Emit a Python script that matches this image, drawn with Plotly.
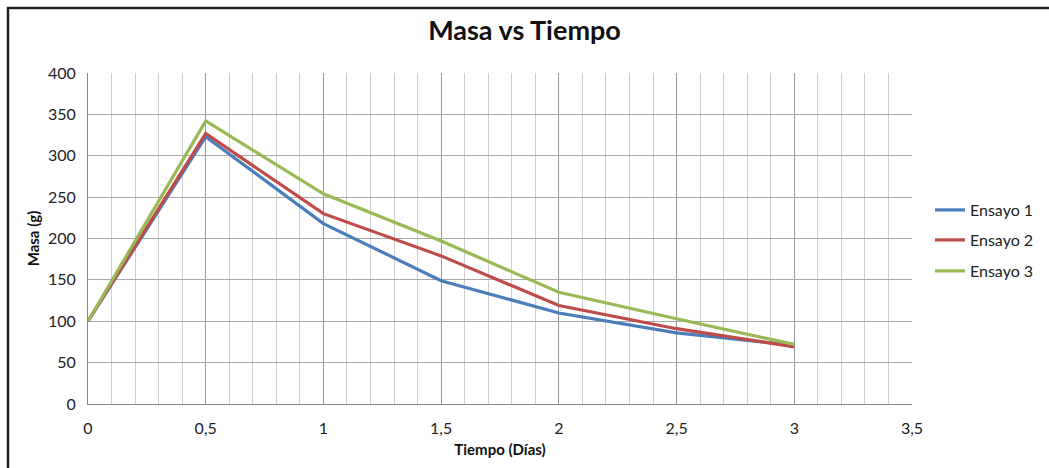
import plotly.graph_objects as go

dias = [0, 0.5, 1, 1.5, 2, 2.5, 3]
ensayo1 = [100, 323, 218, 149, 110, 86, 71]
ensayo2 = [100, 327, 230, 179, 119, 91, 69]
ensayo3 = [100, 342, 254, 197, 135, 103, 72]
series_names = ["Ensayo 1", "Ensayo 2", "Ensayo 3"]
colors = ["#4A7EBB", "#BE4B48", "#98B954"]

W, H = 1049, 468
L, R, T, B = 88, 137, 73, 64
pw, ph = W - L - R, H - T - B

def px(x):
    return (x - L) / pw

def py(y):
    return (H - B - y) / ph

legend_ids = ["legend", "legend2", "legend3"]
legend_rows = [210, 240, 271]

fig = go.Figure()
for name, vals, c, lg in zip(series_names, [ensayo1, ensayo2, ensayo3], colors, legend_ids):
    fig.add_trace(go.Scatter(x=dias, y=vals, mode="lines", name=name, legend=lg,
                             line=dict(color=c, width=3.2)))

legend_layout = {}
for lg, row in zip(legend_ids, legend_rows):
    legend_layout[lg] = dict(x=px(930), xanchor="left", y=py(row), yanchor="middle",
                             font=dict(size=16, color="#222"),
                             itemwidth=30, bgcolor="rgba(0,0,0,0)")

fig.update_layout(
    width=W, height=H,
    margin=dict(l=L, r=R, t=T, b=B, autoexpand=False),
    paper_bgcolor="white", plot_bgcolor="white",
    font=dict(family="Lato, 'Open Sans', sans-serif", size=16, color="#222"),
    separators=",.",
    title=dict(text="<b>Masa vs Tiempo</b>", x=0.5, xanchor="center",
               y=1 - 31 / H, yanchor="middle",
               font=dict(size=27, color="#111")),
    showlegend=True,
    xaxis=dict(range=[0, 3.5], dtick=0.5, tick0=0, showgrid=True,
               gridcolor="#9a9a9a", gridwidth=1, automargin=False,
               minor=dict(dtick=0.1, showgrid=True, gridcolor="#cfcfcf", gridwidth=1),
               showline=True, linecolor="#888", linewidth=1,
               zeroline=False, ticks="", ticklabelstandoff=10,
               title=dict(text="<b>Tiempo (Días)</b>", standoff=8,
                          font=dict(size=15, color="#111"))),
    yaxis=dict(range=[0, 400], dtick=50, showgrid=True, gridcolor="#a8a8a8",
               gridwidth=1, showline=True, linecolor="#888", linewidth=1,
               zeroline=False, ticks="", ticklabelstandoff=8, automargin=False,
               title=dict(text="<b>Masa (g)</b>", standoff=4,
                          font=dict(size=15, color="#111"))),
    shapes=[dict(type="rect", xref="paper", yref="paper",
                 x0=px(8), x1=px(W + 20), y0=py(H + 20), y1=py(8),
                 line=dict(color="#222", width=2.5), layer="above")],
    **legend_layout,
)

fig.write_html("out.html", config={"displayModeBar": False},
               post_script="document.body.style.margin='0';document.body.style.overflow='hidden';")
